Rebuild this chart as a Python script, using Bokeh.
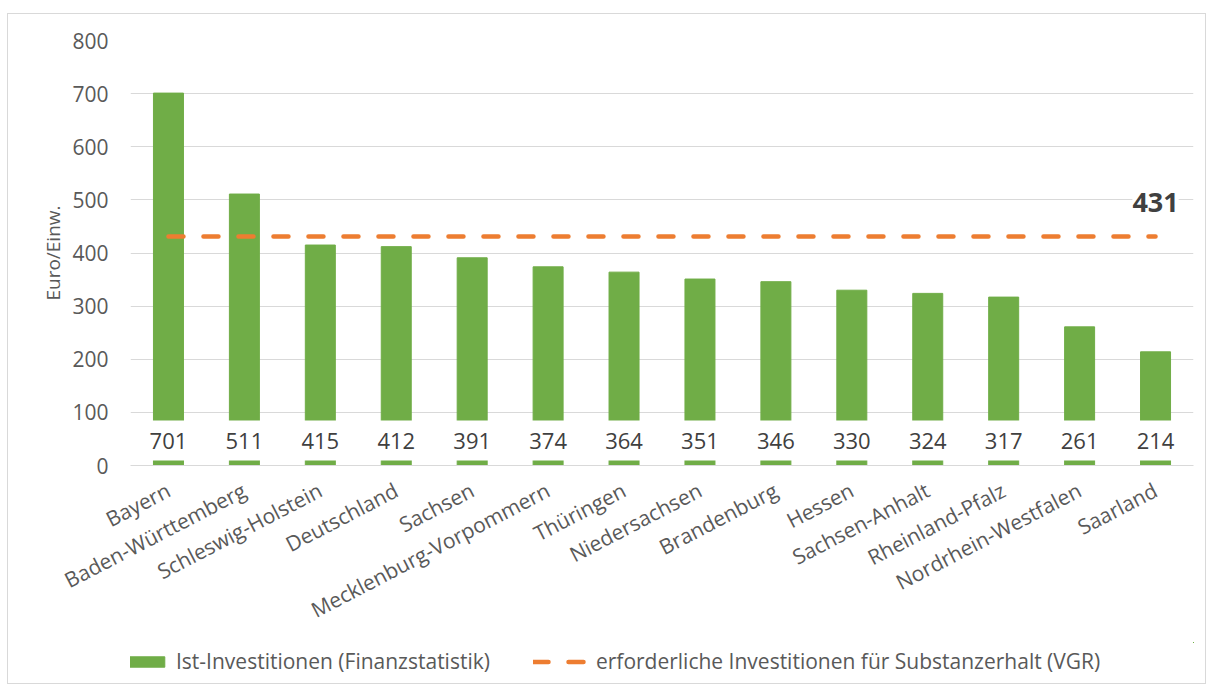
from bokeh.plotting import figure
from bokeh.models import Range1d, FixedTicker, Legend, LegendItem, ColumnDataSource, Label
from bokeh.layouts import column
from bokeh.embed import file_html
from bokeh.resources import INLINE
from bokeh.core.properties import value

categories = ["Bayern", "Baden-Württemberg", "Schleswig-Holstein", "Deutschland", "Sachsen",
              "Mecklenburg-Vorpommern", "Thüringen", "Niedersachsen", "Brandenburg", "Hessen",
              "Sachsen-Anhalt", "Rheinland-Pfalz", "Nordrhein-Westfalen", "Saarland"]
ist_investitionen = [701, 511, 415, 412, 391, 374, 364, 351, 346, 330, 324, 317, 261, 214]
erforderlich = 431
y_ticks = [0, 100, 200, 300, 400, 500, 600, 700, 800]
series_names = ["Ist-Investitionen (Finanzstatistik)",
                "erforderliche Investitionen für Substanzerhalt (VGR)"]
y_label = "Euro/Einw."

FONT = "Open Sans"
GREEN = "#70AD47"
ORANGE = "#ED7D31"
GRID = "#D9D9D9"
TXT = "#595959"
DARK = "#404040"

idx = list(range(len(categories)))
src = ColumnDataSource(dict(x=idx, y=ist_investitionen, lab=[str(v) for v in ist_investitionen],
                            y0=[0] * len(idx)))
req_src = ColumnDataSource(dict(x=[idx[0], idx[-1]], y=[erforderlich, erforderlich]))

p = figure(width=1197, height=628, x_range=Range1d(-0.5, len(categories) - 0.5),
           y_range=Range1d(y_ticks[0], y_ticks[-1]),
           output_backend="svg", toolbar_location=None,
           min_border_left=122, min_border_right=12, min_border_top=26, min_border_bottom=177)
p.outline_line_color = None
p.background_fill_color = "white"
p.border_fill_color = "white"

bar_style = dict(width=0.395, fill_color=GREEN, line_color=GREEN)
bars = p.vbar(x="x", top="y", source=src, **bar_style)

p.text(x="x", y="y0", text="lab", source=src, y_offset=-25,
       text_font=value(FONT), text_font_size="22px", text_color=DARK,
       text_align="center", text_baseline="middle",
       background_fill_color="white", padding=12)

line_style = dict(line_color=ORANGE, line_width=4.5, line_dash="15 20", line_cap="round")
line = p.line(x="x", y="y", source=req_src, **line_style)

lbl = Label(x=idx[-1], y=erforderlich, text=str(erforderlich), y_offset=34,
            text_font=FONT, text_font_size="27px", text_font_style="bold",
            text_color=DARK, text_align="center", text_baseline="middle",
            background_fill_color="white")
p.add_layout(lbl)

# axes
p.xaxis.ticker = FixedTicker(ticks=idx)
p.xaxis.major_label_overrides = {i: c for i, c in zip(idx, categories)}
p.xaxis.major_label_orientation = 0.48
p.xaxis.major_label_text_font = FONT
p.xaxis.major_label_text_font_size = "21px"
p.xaxis.major_label_text_color = TXT
p.xaxis.major_tick_out = 0
p.xaxis.major_tick_in = 0
p.xaxis.major_label_standoff = 23
p.xaxis.axis_line_color = GRID
p.xaxis.major_tick_line_color = None
p.xaxis.minor_tick_line_color = None

p.yaxis.ticker = FixedTicker(ticks=y_ticks)
p.yaxis.major_label_text_font = FONT
p.yaxis.major_label_text_font_size = "21px"
p.yaxis.major_label_text_color = TXT
p.yaxis.major_tick_out = 0
p.yaxis.major_tick_in = 0
p.yaxis.major_label_standoff = 22
p.yaxis.axis_line_color = None
p.yaxis.major_tick_line_color = None
p.yaxis.minor_tick_line_color = None
p.yaxis.axis_label = y_label
p.yaxis.axis_label_text_font = FONT
p.yaxis.axis_label_text_font_size = "19px"
p.yaxis.axis_label_text_font_style = "normal"
p.yaxis.axis_label_text_color = TXT
p.yaxis.axis_label_standoff = 3

p.xgrid.grid_line_color = None
p.ygrid.grid_line_color = GRID
p.ygrid.ticker = FixedTicker(ticks=y_ticks)

# legend strip (own figure so the legend is not clipped); its proxy marks lie outside its ranges
pl = figure(width=1197, height=41, x_range=Range1d(-30, -29), y_range=Range1d(-30, -29),
            x_axis_type=None, y_axis_type=None, output_backend="svg", toolbar_location=None,
            min_border=0)
pl.outline_line_color = None
pl.grid.visible = False
leg_bar = pl.vbar(x="x", top="y", source=src, **bar_style)
leg_line = pl.line(x="x", y="y", source=req_src, **line_style)

legend = Legend(items=[LegendItem(label=series_names[0], renderers=[leg_bar]),
                       LegendItem(label=series_names[1], renderers=[leg_line])],
                orientation="horizontal", location=(-17, 8),
                glyph_width=57, glyph_height=13, label_standoff=6, spacing=43,
                padding=0, margin=0, border_line_color=None, background_fill_alpha=0,
                label_text_font=FONT, label_text_font_size="21px", label_text_color=TXT)
pl.add_layout(legend, "center")

layout = column(p, pl, spacing=0,
                styles={"margin-left": "7px", "margin-top": "13px", "border": "1px solid #D9D9D9"})

open("out.html", "w").write(file_html(layout, INLINE))
